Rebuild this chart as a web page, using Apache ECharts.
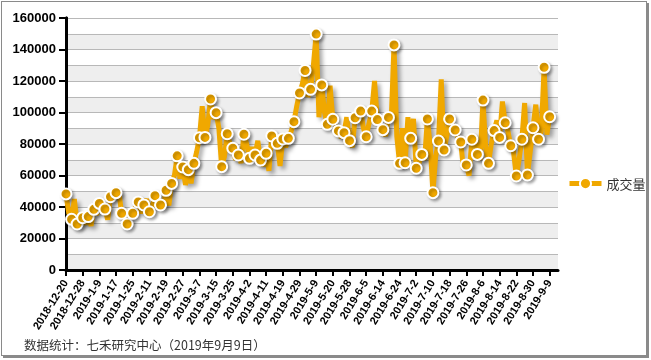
<!DOCTYPE html>
<html>
<head>
<meta charset="utf-8">
<script src="https://cdn.jsdelivr.net/npm/echarts@6/dist/echarts.min.js"></script>
<style>
html,body{margin:0;padding:0;background:#fff;}
#wrap{position:relative;width:651px;height:360px;}
#chart{position:absolute;left:0;top:0;width:651px;height:360px;}
#frame{position:absolute;left:1px;top:1px;width:644px;height:353px;border:1px solid #8a8a8a;box-shadow:2px 2px 0 #8a8a8a;pointer-events:none;}
</style>
</head>
<body>
<div id="wrap"><div id="chart"></div><div id="frame"></div></div>
<script>
const seriesName = '成交量';
const tickLabels = ['2018-12-20','2018-12-28','2019-1-9','2019-1-17','2019-1-25','2019-2-11','2019-2-19','2019-2-27','2019-3-7','2019-3-15','2019-3-25','2019-4-2','2019-4-11','2019-4-19','2019-4-29','2019-5-9','2019-5-20','2019-5-28','2019-6-5','2019-6-14','2019-6-24','2019-7-2','2019-7-10','2019-7-18','2019-7-26','2019-8-6','2019-8-14','2019-8-22','2019-8-30','2019-9-9'];
const yTicks = [0,20000,40000,60000,80000,100000,120000,140000,160000];
const volume = [
48300,36000,32200,45000,29200,28000,33200,29000,33900,28000,
38500,35000,42300,40000,38700,32000,46500,47000,49100,50000,
36000,32000,29200,33000,36000,40000,43200,36000,41300,45000,
37000,40000,47200,44000,41300,40000,50600,41000,55000,60000,
72500,58000,65400,54000,63700,55000,67700,75000,84000,104000,
84200,92000,108600,96000,99900,90000,65600,72000,86500,80000,
77300,70000,73000,68000,86200,80000,70900,78000,73000,82000,
69800,66000,74100,63000,85100,80000,80400,66000,83200,78000,
83600,88000,94200,104000,112400,118000,126700,110000,114700,130000,
149800,97000,117500,100000,92500,117000,95700,90000,88300,84000,
87200,97000,82100,78000,96700,94000,100900,90000,84600,93000,
100900,120000,95500,92000,89100,85000,96900,95000,142900,85000,
67700,90000,68100,97000,83600,96000,64600,68000,73400,70000,
95900,80000,49100,72000,81900,121000,76200,85000,95900,92000,
88900,84000,81300,64000,66700,60000,83000,85000,73400,70000,
107900,78000,67700,80000,88500,95000,84200,107000,93500,88000,
78900,75000,59700,70000,83000,106000,60300,75000,90300,105000,
83000,88000,128700,86000,97300
];

const STEP = 6, PAD = 3;
const categories = [];
for (let i = 0; i < volume.length + PAD; i++) {
  categories.push(i % STEP === 0 && i / STEP < tickLabels.length ? tickLabels[i / STEP] : 'p' + i);
}
const seriesData = volume.slice();
for (let i = 0; i < PAD; i++) seriesData.push('-');

const gold = '#F0A800';
const font = 'Liberation Sans, Arial, Helvetica, sans-serif';
const chart = echarts.init(document.getElementById('chart'));
chart.setOption({
  animation: false,
  backgroundColor: 'transparent',
  grid: {left: 66, right: 93, top: 18, bottom: 90, containLabel: false},
  legend: {
    data: [seriesName], orient: 'vertical', left: 562, top: 172,
    itemWidth: 32, itemHeight: 14, itemGap: 10,
    lineStyle: {width: 5},
    textStyle: {fontSize: 13, color: '#333', fontFamily: 'Noto Sans CJK SC'}
  },
  xAxis: {
    type: 'category', data: categories, boundaryGap: false,
    axisLine: {show: true, lineStyle: {color: '#000', width: 3}},
    axisTick: {show: true, interval: STEP - 1, length: 6, lineStyle: {color: '#000', width: 2}},
    axisLabel: {interval: STEP - 1, rotate: 58, fontSize: 11, fontWeight: 'bold', color: '#000', fontFamily: font, margin: 11},
    splitLine: {show: false}
  },
  yAxis: [
    {
      type: 'value', min: 0, max: 160000, interval: 10000, position: 'left',
      axisLine: {show: true, lineStyle: {color: '#000', width: 3}},
      axisTick: {show: false}, axisLabel: {show: false},
      splitLine: {show: true, lineStyle: {color: '#b8b8b8', width: 1}},
      splitArea: {show: true, areaStyle: {color: ['#eeeeee', '#ffffff']}}
    },
    {
      type: 'value', min: yTicks[0], max: yTicks[yTicks.length - 1], interval: yTicks[1] - yTicks[0], position: 'left',
      axisLine: {show: true, lineStyle: {color: '#000', width: 3}},
      axisTick: {show: true, length: 7, lineStyle: {color: '#000', width: 2}},
      axisLabel: {fontSize: 13, fontWeight: 'bold', color: '#000', fontFamily: font, margin: 10,
        formatter: function (v) { return String(v); }},
      splitLine: {show: false}
    }
  ],
  graphic: [{
    type: 'text', left: 24, top: 339,
    style: {text: '数据统计：七禾研究中心（2019年9月9日）', fontSize: 12.5, fill: '#333', fontFamily: 'Noto Sans CJK SC'}
  }],
  series: [{
    name: seriesName, type: 'line', data: seriesData, yAxisIndex: 1,
    symbol: 'circle', showAllSymbol: true,
    symbolSize: function (v, p) { return p.dataIndex % 2 === 0 ? 11 : 0; },
    lineStyle: {color: gold, width: 5, shadowColor: 'rgba(0,0,0,0.35)', shadowBlur: 4, shadowOffsetX: 3, shadowOffsetY: 3},
    itemStyle: {color: gold, borderColor: '#fff', borderWidth: 2, shadowColor: 'rgba(0,0,0,0.3)', shadowBlur: 3, shadowOffsetX: 2, shadowOffsetY: 2},
    emphasis: {disabled: true}
  }]
});
</script>
</body>
</html>
